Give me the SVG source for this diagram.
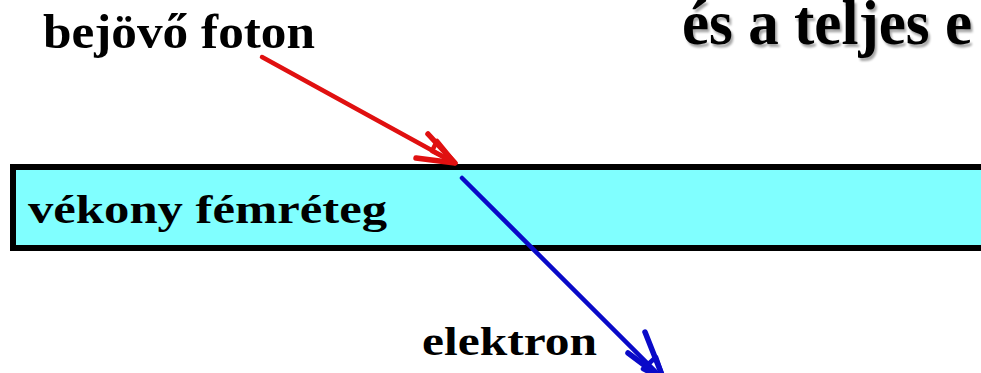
<svg xmlns="http://www.w3.org/2000/svg" width="981" height="373" viewBox="0 0 981 373">
  <style>
    .lbl { font-family: "Liberation Serif", "Times New Roman", serif; font-weight: bold; fill: #000; }
    .red { stroke: #e01010; stroke-width: 4.5; fill: none; stroke-linecap: round; stroke-linejoin: round; }
    .blue { stroke: #0a0ac8; stroke-width: 4.5; fill: none; stroke-linecap: round; stroke-linejoin: round; }
    .head { stroke-width: 5.5; }
  </style>
  <defs>
    <filter id="shadow" x="-5%" y="-10%" width="110%" height="140%">
      <feDropShadow dx="2" dy="3" stdDeviation="1.2" flood-color="#000" flood-opacity="0.35"/>
    </filter>
  </defs>
  <rect x="0" y="0" width="981" height="373" fill="#ffffff"/>
  <g id="title">
    <text class="lbl" x="682" y="44" font-size="64" textLength="290" lengthAdjust="spacingAndGlyphs" filter="url(#shadow)">és a teljes e</text>
  </g>
  <g id="layer">
    <rect x="13" y="167" width="980" height="81" fill="#80ffff" stroke="#000" stroke-width="6"/>
    <text class="lbl" x="28" y="223" font-size="40" textLength="359" lengthAdjust="spacingAndGlyphs">vékony fémréteg</text>
  </g>
  <g id="photon-label">
    <text class="lbl" x="43" y="48" font-size="49" textLength="272" lengthAdjust="spacingAndGlyphs">bejövő foton</text>
  </g>
  <g id="electron-label">
    <text class="lbl" x="422" y="355" font-size="41" textLength="175" lengthAdjust="spacingAndGlyphs">elektron</text>
  </g>
  <g id="connectors">
    <path class="red" d="M262,57 L455,163"/>
    <path class="red head" d="M428,134 L455,163 L416,158"/>
    <path class="red" fill="#e01010" d="M432,151 L455,163 L437,141 Z"/>
    <path class="blue" d="M462,178 L664,380"/>
    <path class="blue head" d="M628,353 L664,380 L645,332"/>
    <path class="blue" fill="#0a0ac8" d="M643,369 L664,380 L656,357 Z"/>
  </g>
</svg>
